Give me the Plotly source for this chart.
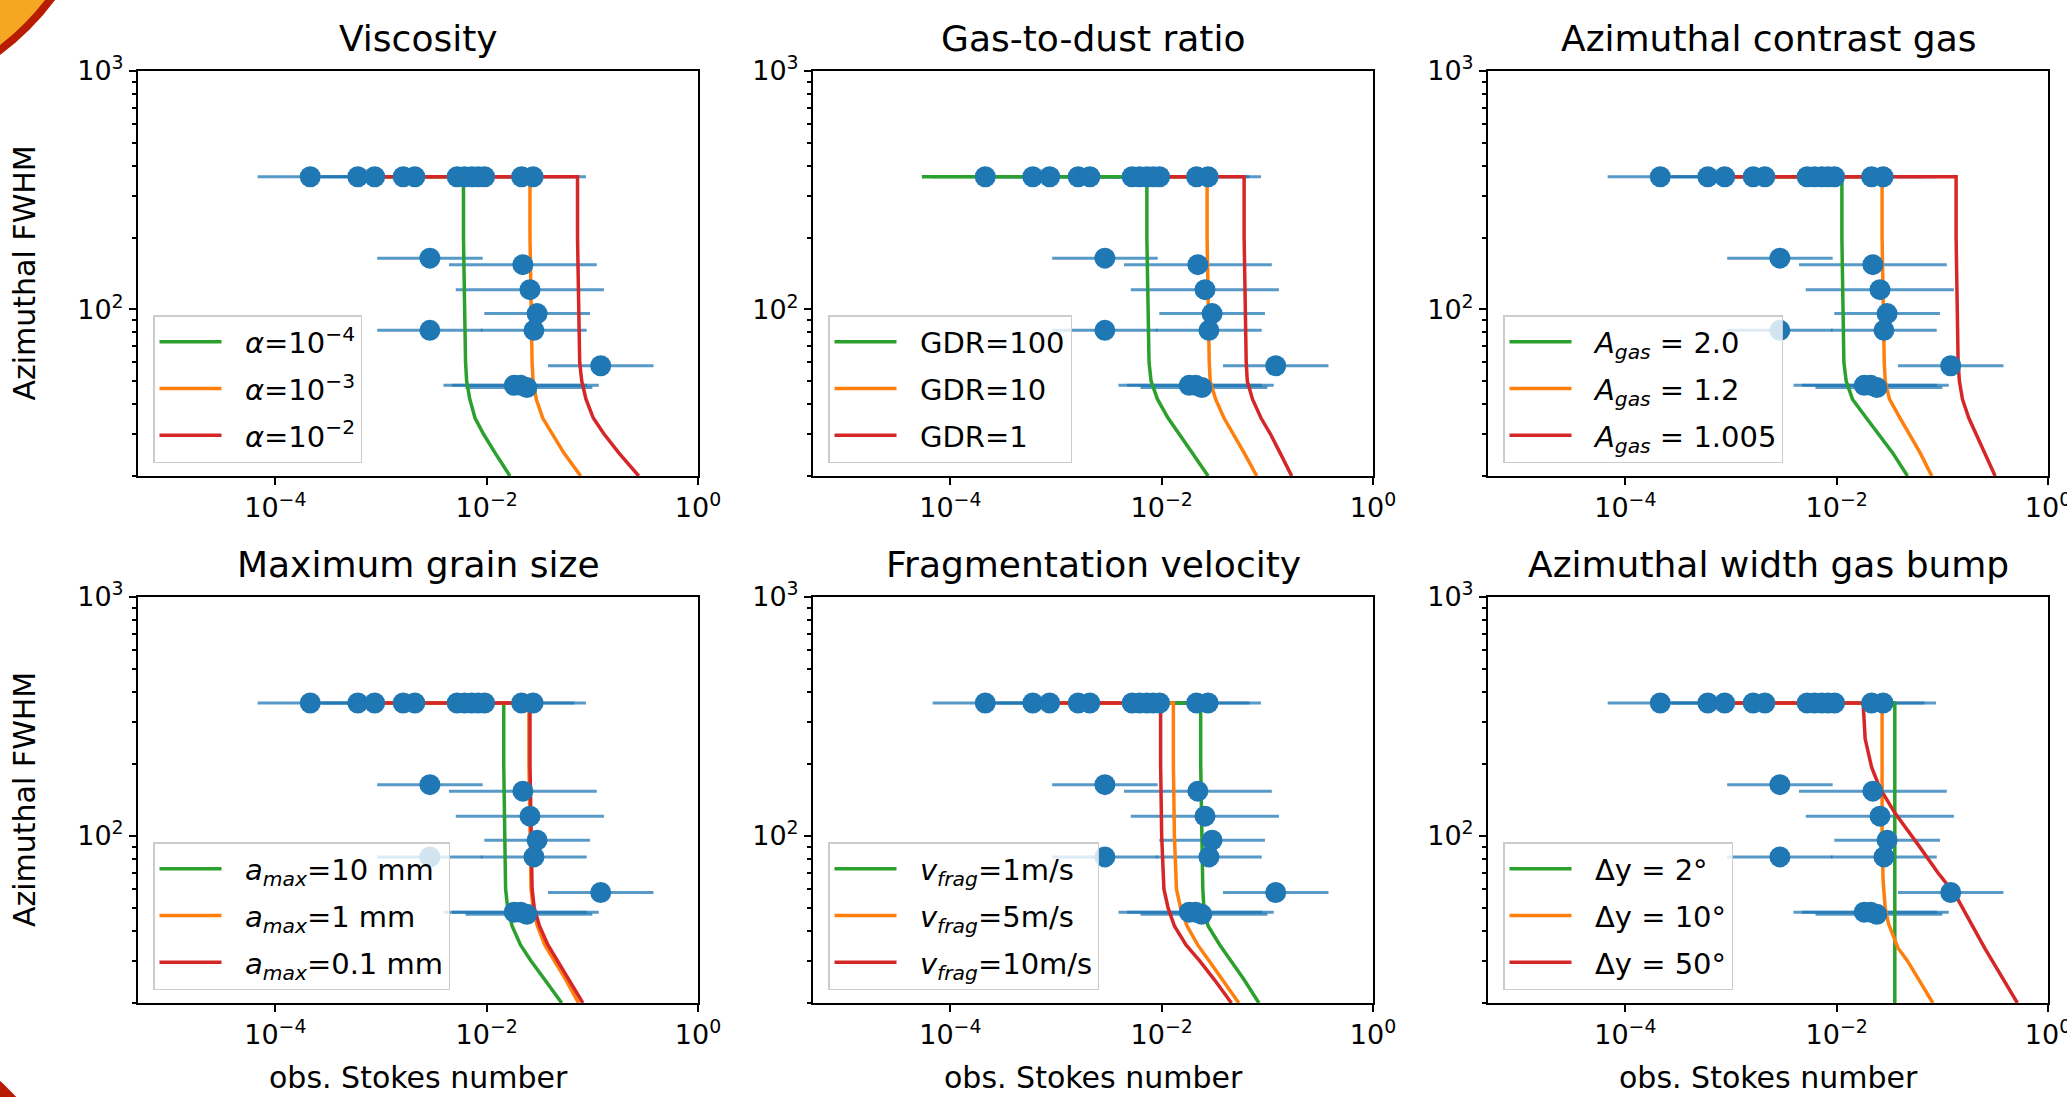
import plotly.graph_objects as go

# ---------------- data ----------------
# observed points (same in every panel)
obs_x = [2.14e-4, 6.03e-4, 8.71e-4, 1.62e-3, 2.09e-3, 5.25e-3, 6.17e-3, 7.24e-3, 8.32e-3, 9.55e-3,
         2.14e-2, 2.75e-2, 2.9e-3, 2.2e-2, 2.57e-2, 3.0e-2, 2.9e-3, 2.8e-2, 0.12, 1.82e-2, 2.1e-2, 2.4e-2]
obs_y = [360, 360, 360, 360, 360, 360, 360, 360, 360, 360,
         360, 360, 164, 154, 121, 96, 81.7, 81.7, 58, 48, 48, 47]
obs_err_minus = [1.46e-4, 4.12e-4, 5.96e-4, 1.11e-3, 1.43e-3, 3.59e-3, 4.22e-3, 4.95e-3, 5.69e-3, 6.53e-3,
                 1.46e-2, 1.88e-2, 1.98e-3, 1.76e-2, 2.06e-2, 2.05e-2, 1.98e-3, 1.92e-2, 8.2e-2, 1.43e-2, 1.63e-2, 1.77e-2]
obs_err_plus = [4.63e-4, 1.30e-3, 1.88e-3, 3.50e-3, 4.52e-3, 1.135e-2, 1.334e-2, 1.565e-2, 1.80e-2, 2.065e-2,
                4.63e-2, 5.95e-2, 6.27e-3, 8.82e-2, 0.103, 6.49e-2, 6.27e-3, 6.05e-2, 0.259, 7.1e-2, 9.4e-2, 7.6e-2]

# model curves: y values (Azimuthal FWHM)
curve_y = [360, 360, 200, 100, 60, 50, 42, 35, 30, 25, 20]

# Viscosity
visc_labels = ["<i>α</i>=10<sup>−4</sup>", "<i>α</i>=10<sup>−3</sup>", "<i>α</i>=10<sup>−2</sup>"]
visc_x = [
    [7.9e-4, 6.03e-3, 6.03e-3, 6.17e-3, 6.31e-3, 6.46e-3, 6.92e-3, 7.76e-3, 9.33e-3, 1.20e-2, 1.66e-2],
    [7.9e-4, 2.57e-2, 2.57e-2, 2.63e-2, 2.69e-2, 2.75e-2, 2.95e-2, 3.39e-2, 4.17e-2, 5.37e-2, 7.76e-2],
    [7.9e-4, 7.24e-2, 7.24e-2, 7.41e-2, 7.59e-2, 7.94e-2, 8.71e-2, 0.102, 0.129, 0.178, 0.275],
]
visc_y = [curve_y, curve_y, curve_y]

# Gas-to-dust ratio
gdr_labels = ["GDR=100", "GDR=10", "GDR=1"]
gdr_x = [
    [5.37e-5, 7.24e-3, 7.24e-3, 7.41e-3, 7.59e-3, 7.94e-3, 9.12e-3, 1.15e-2, 1.48e-2, 1.95e-2, 2.75e-2],
    [5.01e-3, 2.69e-2, 2.69e-2, 2.75e-2, 2.82e-2, 2.88e-2, 3.24e-2, 3.89e-2, 4.79e-2, 6.03e-2, 7.94e-2],
    [1.0e-2, 6.03e-2, 6.03e-2, 6.17e-2, 6.31e-2, 6.46e-2, 7.24e-2, 8.71e-2, 0.107, 0.132, 0.170],
]
gdr_y = [curve_y, curve_y, curve_y]

# Azimuthal contrast gas
agas_labels = ["<i>A<sub>gas</sub></i> = 2.0", "<i>A<sub>gas</sub></i> = 1.2", "<i>A<sub>gas</sub></i> = 1.005"]
agas_x = [
    [7.9e-4, 1.12e-2, 1.12e-2, 1.15e-2, 1.17e-2, 1.23e-2, 1.41e-2, 1.91e-2, 2.51e-2, 3.39e-2, 4.68e-2],
    [7.9e-4, 2.69e-2, 2.69e-2, 2.75e-2, 2.82e-2, 2.88e-2, 3.16e-2, 3.98e-2, 4.90e-2, 6.17e-2, 7.94e-2],
    [7.9e-4, 0.135, 0.135, 0.138, 0.141, 0.145, 0.155, 0.178, 0.209, 0.251, 0.316],
]
agas_y = [curve_y, curve_y, curve_y]

# Maximum grain size
amax_labels = ["<i>a<sub>max</sub></i>=10 mm", "<i>a<sub>max</sub></i>=1 mm", "<i>a<sub>max</sub></i>=0.1 mm"]
amax_x = [
    [7.9e-4, 1.45e-2, 1.45e-2, 1.48e-2, 1.51e-2, 1.58e-2, 1.74e-2, 2.09e-2, 2.63e-2, 3.55e-2, 5.13e-2],
    [7.9e-4, 2.51e-2, 2.51e-2, 2.57e-2, 2.63e-2, 2.75e-2, 3.02e-2, 3.55e-2, 4.37e-2, 5.62e-2, 7.41e-2],
    [7.9e-4, 2.57e-2, 2.57e-2, 2.63e-2, 2.69e-2, 2.82e-2, 3.16e-2, 3.80e-2, 4.68e-2, 6.03e-2, 8.13e-2],
]
amax_y = [curve_y, curve_y, curve_y]

# Fragmentation velocity
vfrag_labels = ["<i>v<sub>frag</sub></i>=1m/s", "<i>v<sub>frag</sub></i>=5m/s", "<i>v<sub>frag</sub></i>=10m/s"]
vfrag_x = [
    [7.9e-4, 2.34e-2, 2.34e-2, 2.40e-2, 2.45e-2, 2.51e-2, 2.75e-2, 3.55e-2, 4.57e-2, 6.03e-2, 8.32e-2],
    [7.9e-4, 1.29e-2, 1.29e-2, 1.32e-2, 1.38e-2, 1.51e-2, 1.74e-2, 2.19e-2, 2.82e-2, 3.80e-2, 5.37e-2],
    [7.9e-4, 9.77e-3, 9.77e-3, 1.0e-2, 1.05e-2, 1.15e-2, 1.32e-2, 1.70e-2, 2.29e-2, 3.16e-2, 4.57e-2],
]
vfrag_y = [curve_y, curve_y, curve_y]

# Azimuthal width gas bump
dy_labels = ["Δy = 2°", "Δy = 10°", "Δy = 50°"]
dy_x = [
    [7.9e-4, 3.55e-2, 3.55e-2],
    [7.9e-4, 2.69e-2, 2.69e-2, 2.69e-2, 2.75e-2, 2.88e-2, 3.09e-2, 3.80e-2, 4.68e-2, 6.03e-2, 8.13e-2],
    [7.9e-4, 1.78e-2, 1.86e-2, 2.14e-2, 2.57e-2, 3.55e-2, 5.89e-2, 9.12e-2, 0.132, 0.251, 0.513],
]
dy_y = [
    [360, 360, 20],
    [360, 360, 200, 100, 65, 50, 43, 34, 30, 25, 20],
    [360, 360, 255, 194, 158, 125, 92, 70, 57, 34, 20],
]

panel_titles = ["Viscosity", "Gas-to-dust ratio", "Azimuthal contrast gas",
                "Maximum grain size", "Fragmentation velocity", "Azimuthal width gas bump"]
panels = [
    (visc_x, visc_y, visc_labels),
    (gdr_x, gdr_y, gdr_labels),
    (agas_x, agas_y, agas_labels),
    (amax_x, amax_y, amax_labels),
    (vfrag_x, vfrag_y, vfrag_labels),
    (dy_x, dy_y, dy_labels),
]

x_tickvals = [1e-4, 1e-2, 1]
x_ticktext = ["10<sup>−4</sup>", "10<sup>−2</sup>", "10<sup>0</sup>"]
y_tickvals = [100, 1000]
y_ticktext = ["10<sup>2</sup>", "10<sup>3</sup>"]
y_minor = [20, 30, 40, 50, 60, 70, 80, 90, 200, 300, 400, 500, 600, 700, 800, 900]
x_title = "obs. Stokes number"
y_title = "Azimuthal FWHM"

# ---------------- layout / style ----------------
W, H = 2067, 1097
FONT = "DejaVu Sans"
line_colors = ["#2ca02c", "#ff7f0e", "#d62728"]
blue = "#1f77b4"
NB = "\u00a0\u00a0"  # gap between legend line and text

col_px = [(138, 698), (813, 1373), (1488, 2048)]
row_px = [(71, 476), (597, 1003)]


def px_x(p):
    return p / W


def px_y(p):
    return 1 - p / H


fig = go.Figure()
layout = dict(
    width=W, height=H,
    margin=dict(l=0, r=0, t=0, b=0, autoexpand=False),
    paper_bgcolor="white", plot_bgcolor="white",
    font=dict(family=FONT, color="black", size=27),
    showlegend=True,
)
annotations = []

for i, (cx, cy, labels) in enumerate(panels):
    r, c = divmod(i, 3)
    ax = "" if i == 0 else str(i + 1)
    xa, ya = "x" + ax, "y" + ax
    leg = "legend" if i == 0 else "legend" + str(i + 1)
    x0, x1 = col_px[c]
    y0, y1 = row_px[r]

    # error bars (under the model lines)
    fig.add_trace(go.Scatter(
        x=obs_x, y=obs_y, mode="markers", xaxis=xa, yaxis=ya,
        marker=dict(color="rgba(0,0,0,0)", size=2),
        error_x=dict(type="data", symmetric=False, array=obs_err_plus, arrayminus=obs_err_minus,
                     color="rgba(31,119,180,0.75)", thickness=3, width=0),
        showlegend=False, hoverinfo="skip"))
    # model lines
    for k in range(3):
        fig.add_trace(go.Scatter(
            x=cx[k], y=cy[k], mode="lines", xaxis=xa, yaxis=ya,
            line=dict(color=line_colors[k], width=3.5),
            name=NB + labels[k], legend=leg, legendgroup="p%d_%d" % (i, k)))
    # observed points on top
    fig.add_trace(go.Scatter(
        x=obs_x, y=obs_y, mode="markers", xaxis=xa, yaxis=ya,
        marker=dict(color=blue, size=21, line=dict(width=0)),
        showlegend=False, hoverinfo="skip"))

    axis_common = dict(type="log", showline=True, mirror=True, linecolor="black", linewidth=2,
                       showgrid=False, zeroline=False, ticks="outside", ticklen=7, tickwidth=2,
                       tickcolor="black", tickfont=dict(family=FONT, size=27, color="black"),
                       ticklabeloverflow="allow")
    layout["xaxis" + ax] = dict(axis_common, domain=[px_x(x0), px_x(x1)], range=[-5.3, 0],
                                anchor=ya, tickmode="array", tickvals=x_tickvals, ticktext=x_ticktext)
    layout["yaxis" + ax] = dict(axis_common, domain=[px_y(y1), px_y(y0)], range=[1.30103, 3],
                                anchor=xa, tickmode="array", tickvals=y_tickvals, ticktext=y_ticktext,
                                minor=dict(tickmode="array", tickvals=y_minor, ticks="outside",
                                           ticklen=4, tickwidth=1.5, tickcolor="black"))
    layout[leg] = dict(x=px_x(x0 + 15), y=px_y(y1 - 13), xanchor="left", yanchor="bottom",
                       bgcolor="rgba(255,255,255,0.8)", bordercolor="#cccccc", borderwidth=1.5,
                       font=dict(family=FONT, size=29, color="black"), itemwidth=62,
                       tracegroupgap=6, traceorder="grouped")

    annotations.append(dict(text=panel_titles[i], x=px_x((x0 + x1) / 2), y=px_y(y0 - 10),
                            xref="paper", yref="paper", xanchor="center", yanchor="bottom",
                            showarrow=False, font=dict(family=FONT, size=36, color="black")))
    if r == 1:
        annotations.append(dict(text=x_title, x=px_x((x0 + x1) / 2), y=px_y(1077),
                                xref="paper", yref="paper", xanchor="center", yanchor="middle",
                                showarrow=False, font=dict(family=FONT, size=30, color="black")))
    if c == 0:
        annotations.append(dict(text=y_title, x=px_x(24), y=px_y((y0 + y1) / 2), textangle=-90,
                                xref="paper", yref="paper", xanchor="center", yanchor="middle",
                                showarrow=False, font=dict(family=FONT, size=30, color="black")))

layout["annotations"] = annotations
# decorative corner shapes from the slide background
layout["shapes"] = [
    dict(type="circle", xref="paper", yref="paper", x0=px_x(-400), x1=px_x(100), y0=px_y(100), y1=px_y(-400),
         fillcolor="#f5a623", line=dict(color="#b81c02", width=8), layer="below"),
    dict(type="circle", xref="paper", yref="paper", x0=px_x(-738), x1=px_x(138), y0=px_y(1838), y1=px_y(962),
         fillcolor="#b81c02", line=dict(width=0), layer="below"),
]
fig.update_layout(**layout)

# pin the figure to the page's top-left corner so it fills the window exactly
pin = ("document.body.style.margin='0px';document.body.style.overflow='hidden';"
       "var gd=document.getElementById('{plot_id}');gd.style.position='fixed';"
       "gd.style.left='0px';gd.style.top='0px';")
fig.write_html("out.html", post_script=pin, config={"displayModeBar": False})
